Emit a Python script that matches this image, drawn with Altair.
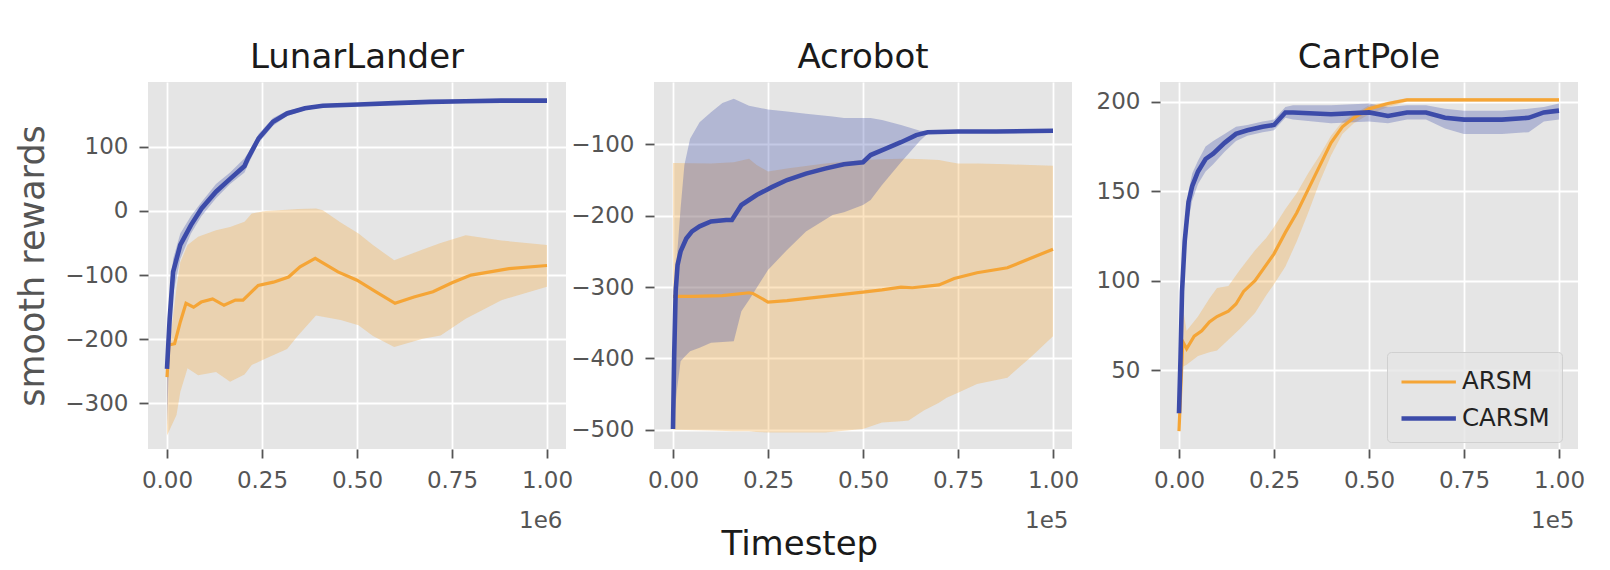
import altair as alt
import pandas as pd

FONT = "DejaVu Sans"
ORANGE = "#F5A536"
BLUE = "#3C4BA9"
ALGOS = ["ARSM", "CARSM"]

# ---------------- LunarLander (x in units of 1e6) ----------------
ll_carsm_x = [0, 0.007, 0.016, 0.035, 0.063, 0.091, 0.129, 0.166, 0.204, 0.213, 0.241,
              0.279, 0.316, 0.363, 0.41, 0.504, 0.598, 0.692, 0.786, 0.88, 1.0]
ll_carsm_y = [-246, -168, -95, -53, -22, 4, 30, 50, 70, 82, 113,
              139, 152, 160, 164, 166, 168, 170, 171, 172, 172]
ll_carsm_lo = [-335, -200, -130, -75, -35, -8, 20, 42, 60, 72, 106,
               133, 148, 157, 162, 164, 166, 168, 169, 170, 170]
ll_carsm_hi = [-230, -140, -75, -35, -8, 14, 42, 60, 82, 90, 120,
               145, 156, 163, 166, 168, 170, 172, 173, 174, 174]

ll_arsm_x = [0, 0.005, 0.02, 0.035, 0.05, 0.07, 0.09, 0.12, 0.15, 0.18, 0.2, 0.24, 0.28,
             0.32, 0.35, 0.39, 0.45, 0.5, 0.55, 0.6, 0.65, 0.7, 0.75, 0.8, 0.85, 0.9, 1.0]
ll_arsm_y = [-259, -209, -207, -173, -144, -150, -142, -137, -147, -139, -139, -116, -111,
             -103, -87, -74, -95, -108, -126, -144, -134, -126, -112, -100, -95, -90, -85]
ll_arsm_bx = [0, 0.025, 0.035, 0.054, 0.082, 0.129, 0.166, 0.204, 0.223, 0.26, 0.316, 0.345,
              0.392, 0.41, 0.457, 0.504, 0.542, 0.598, 0.673, 0.72, 0.786, 0.88, 1.0]
ll_arsm_hi = [-240, -120, -80, -53, -40, -30, -25, -17, -4, 0, 2, 3,
              4, 1, -18, -35, -53, -77, -60, -50, -38, -46, -53]
ll_arsm_lo = [-350, -318, -282, -245, -256, -251, -266, -255, -240, -230, -215, -194,
              -163, -165, -170, -178, -195, -212, -199, -194, -168, -139, -118]

# ---------------- Acrobot (x in units of 1e5) ----------------
ac_carsm_x = [0, 0.003, 0.007, 0.012, 0.02, 0.035, 0.05, 0.07, 0.1, 0.14, 0.155, 0.18, 0.22,
              0.26, 0.3, 0.35, 0.4, 0.45, 0.5, 0.52, 0.56, 0.6, 0.64, 0.67, 0.75, 0.85, 1.0]
ac_carsm_y = [-499, -399, -306, -269, -250, -232, -222, -215, -208, -206, -206, -185, -171,
              -160, -150, -141, -134, -128, -125, -115, -106, -97, -87, -83, -82, -82, -81]
ac_carsm_bx = [0, 0.01, 0.02, 0.03, 0.045, 0.07, 0.1, 0.13, 0.16, 0.18, 0.2, 0.25, 0.3, 0.35,
               0.42, 0.45, 0.5, 0.52, 0.55, 0.6, 0.65, 0.67, 0.75, 0.85, 1.0]
ac_carsm_hi = [-492, -260, -190, -129, -92, -69, -55, -42, -36, -41, -46, -51, -54, -57,
               -61, -63, -63, -63, -66, -73, -81, -81, -80, -80, -79]
ac_carsm_lo = [-500, -446, -404, -398, -390, -385, -378, -377, -376, -334, -318, -276, -248, -222,
               -199, -195, -185, -178, -157, -125, -95, -85, -84, -84, -83]

ac_arsm_x = [0, 0.05, 0.13, 0.2, 0.21, 0.25, 0.3, 0.4, 0.5, 0.55, 0.6, 0.63, 0.7, 0.74,
             0.8, 0.88, 0.93, 1.0]
ac_arsm_y = [-313, -313, -312, -308, -309, -321, -319, -313, -307, -304, -300, -301, -297, -288,
             -280, -273, -262, -247]
ac_arsm_bx = [0, 0.1, 0.16, 0.2, 0.22, 0.25, 0.3, 0.4, 0.5, 0.55, 0.6, 0.62, 0.66, 0.7, 0.72,
              0.75, 0.8, 0.88, 0.94, 1.0]
ac_arsm_hi = [-126, -127, -125, -120, -129, -138, -134, -127, -122, -121, -120, -120, -121, -122,
              -124, -127, -127, -128, -129, -130]
ac_arsm_lo = [-500, -501, -502, -502, -503, -504, -504, -504, -499, -490, -488, -487, -473, -462,
              -455, -448, -436, -427, -399, -369]

# ---------------- CartPole (x in units of 1e5) ----------------
cp_carsm_x = [0, 0.004, 0.008, 0.015, 0.025, 0.035, 0.05, 0.07, 0.09, 0.12, 0.15, 0.18, 0.22,
              0.25, 0.28, 0.3, 0.4, 0.5, 0.55, 0.6, 0.65, 0.7, 0.75, 0.85, 0.92, 0.96, 1.0]
cp_carsm_y = [26, 57, 94, 122, 144, 153, 161, 168, 171, 177, 182, 184, 186,
              187, 194, 194, 193, 194, 192, 194, 194, 191, 190, 190, 191, 194, 195]
cp_carsm_lo = [15, 45, 85, 112, 134, 145, 154, 161, 165, 172, 178, 181, 183,
               184, 191, 190, 188, 189, 188, 190, 190, 185, 182, 182, 183, 189, 190]
cp_carsm_hi = [30, 65, 102, 130, 150, 160, 167, 175, 178, 182, 186, 187, 189,
               190, 197, 198, 198, 199, 197, 198, 198, 196, 195, 195, 196, 197, 199]

cp_arsm_x = [0, 0.01, 0.02, 0.04, 0.06, 0.08, 0.1, 0.13, 0.15, 0.17, 0.2, 0.23, 0.25, 0.28,
             0.31, 0.34, 0.37, 0.4, 0.43, 0.46, 0.5, 0.55, 0.6, 0.7, 1.0]
cp_arsm_y = [16, 66, 62, 69, 72, 77, 80, 83, 87, 94, 100, 109, 115, 127,
             138, 151, 164, 177, 186, 191, 196, 199, 201, 201, 201]
cp_arsm_bx = [0, 0.01, 0.02, 0.05, 0.08, 0.1, 0.13, 0.16, 0.2, 0.23, 0.25, 0.28, 0.31, 0.34,
              0.37, 0.4, 0.43, 0.46, 0.5, 0.55, 0.6, 1.0]
cp_arsm_lo = [14, 52, 53, 58, 60, 61, 67, 73, 82, 92, 98, 108, 122, 138,
              155, 170, 182, 188, 193, 197, 200, 200]
cp_arsm_hi = [20, 85, 72, 80, 90, 96, 97, 106, 117, 124, 130, 140, 149, 160,
              170, 181, 189, 193, 198, 200, 202, 202]

X_TICKS = [0, 0.25, 0.5, 0.75, 1.0]
X_DOMAIN = [-0.05, 1.05]
W, H = 418, 367

color_scale = alt.Scale(domain=ALGOS, range=[ORANGE, BLUE])
width_scale = alt.Scale(domain=ALGOS, range=[3.2, 4.6])


def panel(title, arsm, carsm, y_domain, y_ticks, x_exp, y_title=None, legend=None):
    ax, ay, abx, alo, ahi = arsm
    cx, cy, cbx, clo, chi = carsm
    lines = pd.concat([
        pd.DataFrame({"x": ax, "y": ay, "algo": "ARSM", "o": 0}),
        pd.DataFrame({"x": cx, "y": cy, "algo": "CARSM", "o": 1}),
    ])
    band_a = pd.DataFrame({"x": abx, "lo": alo, "hi": ahi})
    band_c = pd.DataFrame({"x": cbx, "lo": clo, "hi": chi})

    xenc = alt.X("x:Q", scale=alt.Scale(domain=X_DOMAIN, nice=False, zero=False),
                 axis=alt.Axis(values=X_TICKS, format=".2f", title=x_exp,
                               titleAnchor="end", titleAlign="right", titleX=W - 4,
                               titleBaseline="top", titlePadding=17,
                               titleFontSize=23, labelPadding=11))
    yscale = alt.Scale(domain=y_domain, nice=False, zero=False)
    yaxis_kw = dict(values=y_ticks, format="d", labelPadding=11)
    if y_title:
        yaxis_kw.update(title=y_title, titleFontSize=35, titlePadding=18,
                        minExtent=80, maxExtent=80)
    else:
        yaxis_kw.update(title=None)

    area_a = alt.Chart(band_a).mark_area(color=ORANGE, opacity=0.3).encode(
        x=xenc, y=alt.Y("lo:Q", scale=yscale, axis=alt.Axis(**yaxis_kw)), y2="hi:Q")
    area_c = alt.Chart(band_c).mark_area(color=BLUE, opacity=0.3).encode(
        x="x:Q", y="lo:Q", y2="hi:Q")
    line = alt.Chart(lines).mark_line().encode(
        x="x:Q", y="y:Q",
        color=alt.Color("algo:N", scale=color_scale, legend=legend),
        strokeWidth=alt.StrokeWidth("algo:N", scale=width_scale, legend=None),
        detail="algo:N",
        order="o:Q",
    )
    return alt.layer(area_a, area_c, line).properties(
        width=W, height=H,
        title=alt.TitleParams(title, fontSize=34, font=FONT, color="#1a1a1a",
                              fontWeight="normal", anchor="middle",
                              baseline="alphabetic", offset=-20),
    )


legend = alt.Legend(
    orient="none", legendX=227, legendY=270, title=None,
    symbolType="M-1,0L2.4,0", symbolSize=1024, symbolStrokeWidth=4,
    labelFontSize=24.5, labelFont=FONT, labelColor="#222222", labelOffset=26,
    fillColor="rgba(229,229,229,0.8)", strokeColor="#d0d0d0", cornerRadius=4,
    padding=12, rowPadding=6,
)

p1 = panel("LunarLander",
           (ll_arsm_x, ll_arsm_y, ll_arsm_bx, ll_arsm_lo, ll_arsm_hi),
           (ll_carsm_x, ll_carsm_y, ll_carsm_x, ll_carsm_lo, ll_carsm_hi),
           [-371, 201], [-300, -200, -100, 0, 100], "1e6", y_title="smooth rewards")
p2 = panel("Acrobot",
           (ac_arsm_x, ac_arsm_y, ac_arsm_bx, ac_arsm_lo, ac_arsm_hi),
           (ac_carsm_x, ac_carsm_y, ac_carsm_bx, ac_carsm_lo, ac_carsm_hi),
           [-527, -12.6], [-500, -400, -300, -200, -100], "1e5")
p3 = panel("CartPole",
           (cp_arsm_x, cp_arsm_y, cp_arsm_bx, cp_arsm_lo, cp_arsm_hi),
           (cp_carsm_x, cp_carsm_y, cp_carsm_x, cp_carsm_lo, cp_carsm_hi),
           [6, 211], [50, 100, 150, 200], "1e5", legend=legend)

chart = alt.hconcat(p1, p2, p3, spacing=88, bounds="flush").resolve_legend(
    color="independent", strokeWidth="independent"
).properties(
    padding={"left": 7, "top": 33, "right": 0, "bottom": 0},
    title=alt.TitleParams("Timestep", orient="bottom", anchor="middle", fontSize=34,
                          font=FONT, color="#1a1a1a", fontWeight="normal",
                          baseline="alphabetic", offset=23),
).configure_view(
    fill="#E5E5E5", stroke=None
).configure_axis(
    labelFont=FONT, labelFontSize=23, labelColor="#555555",
    titleFont=FONT, titleColor="#555555", titleFontWeight="normal",
    tickColor="#555555", tickSize=9, tickWidth=1.8,
    domain=False, grid=True, gridColor="white", gridWidth=1.8,
)

chart.save("out.html", embed_options={"renderer": "svg", "actions": False})
